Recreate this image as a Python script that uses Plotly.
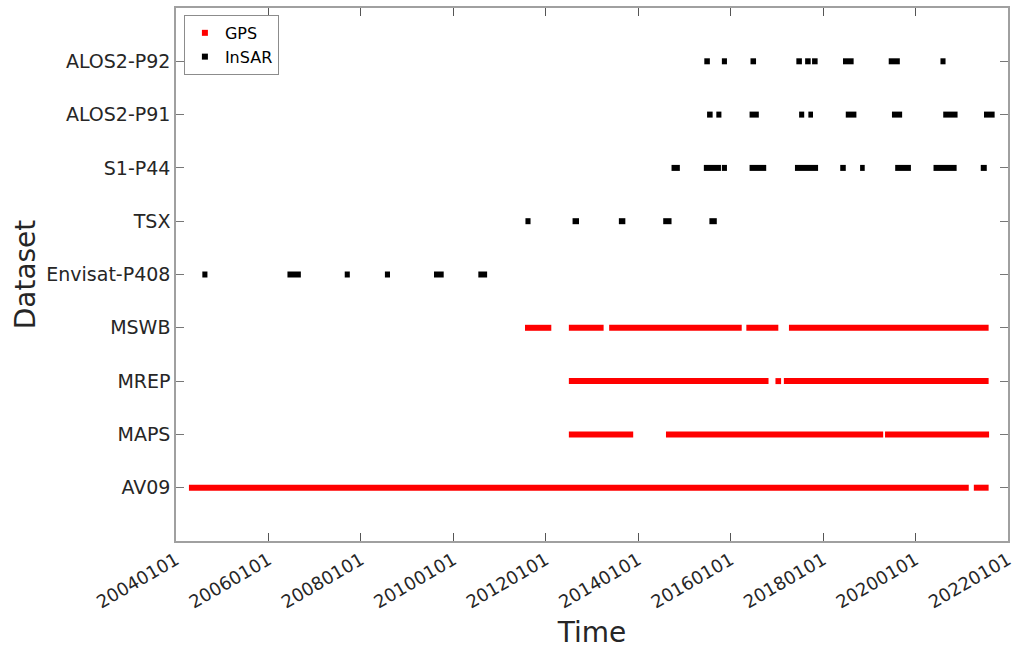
import datetime as dt
import plotly.graph_objects as go

# ---- data (decimal-year intervals) ----
datasets = ["AV09", "MAPS", "MREP", "MSWB", "Envisat-P408", "TSX", "S1-P44", "ALOS2-P91", "ALOS2-P92"]

gps_av09 = [(2004.28, 2021.15), (2021.26, 2021.58)]
gps_maps = [(2012.50, 2013.89), (2014.60, 2019.30), (2019.34, 2021.59)]
gps_mrep = [(2012.50, 2016.82), (2016.97, 2017.09), (2017.15, 2021.58)]
gps_mswb = [(2011.55, 2012.12), (2012.50, 2013.25), (2013.37, 2016.24), (2016.34, 2017.03), (2017.26, 2021.58)]

insar_envisat = [(2004.57, 2004.68), (2006.41, 2006.70), (2007.65, 2007.76), (2008.52, 2008.63),
                 (2009.58, 2009.79), (2010.54, 2010.73)]
insar_tsx = [(2011.56, 2011.67), (2012.58, 2012.72), (2013.58, 2013.72), (2014.54, 2014.72), (2015.54, 2015.70)]
insar_s1 = [(2014.72, 2014.90), (2015.42, 2015.79), (2015.81, 2015.92), (2016.41, 2016.77), (2017.39, 2017.89),
            (2018.37, 2018.49), (2018.80, 2018.90), (2019.56, 2019.90), (2020.39, 2020.89), (2021.41, 2021.54)]
insar_p91 = [(2015.49, 2015.61), (2015.69, 2015.80), (2016.41, 2016.61), (2017.48, 2017.59), (2017.68, 2017.78),
             (2018.49, 2018.72), (2019.49, 2019.71), (2020.60, 2020.91), (2021.48, 2021.71)]
insar_p92 = [(2015.43, 2015.55), (2015.81, 2015.92), (2016.43, 2016.55), (2017.42, 2017.54), (2017.61, 2017.73),
             (2017.76, 2017.88), (2018.43, 2018.66), (2019.42, 2019.66), (2020.54, 2020.65)]

gps_rows = {"AV09": gps_av09, "MAPS": gps_maps, "MREP": gps_mrep, "MSWB": gps_mswb}
insar_rows = {"Envisat-P408": insar_envisat, "TSX": insar_tsx, "S1-P44": insar_s1,
              "ALOS2-P91": insar_p91, "ALOS2-P92": insar_p92}

tick_years = list(range(2004, 2023, 2))
tick_labels = [f"{y}0101" for y in tick_years]


def to_date(dy):
    y = int(dy)
    return dt.datetime(y, 1, 1) + dt.timedelta(days=(dy - y) * 365.25)


def build(rows):
    xs, ys = [], []
    for name, segs in rows.items():
        yv = datasets.index(name) + 1
        for a, b in segs:
            xs += [to_date(a), to_date(b), None]
            ys += [yv, yv, None]
    return xs, ys


fig = go.Figure()
gx, gy = build(gps_rows)
ix, iy = build(insar_rows)
fig.add_trace(go.Scatter(x=gx, y=gy, mode="lines", line=dict(color="#ff0000", width=6), showlegend=False))
fig.add_trace(go.Scatter(x=ix, y=iy, mode="lines", line=dict(color="#000000", width=6), showlegend=False))
fig.add_trace(go.Scatter(x=[None], y=[None], mode="markers", name="GPS",
                         marker=dict(symbol="square", size=6, color="#ff0000")))
fig.add_trace(go.Scatter(x=[None], y=[None], mode="markers", name="InSAR",
                         marker=dict(symbol="square", size=6, color="#000000")))

axis_col = "#a0a0a0"
text_col = "#262626"
font = "DejaVu Sans"

fig.update_layout(
    width=1017, height=649,
    margin=dict(l=176, r=9, t=8, b=108, autoexpand=False),
    paper_bgcolor="white", plot_bgcolor="white",
    font=dict(family=font, color=text_col),
    showlegend=True,
    legend=dict(x=0.0095, y=0.987, xanchor="left", yanchor="top",
                bgcolor="white", bordercolor="#8c8c8c", borderwidth=1,
                font=dict(size=16, color="#000"), tracegroupgap=0, itemwidth=30),
    xaxis=dict(
        range=[dt.datetime(2004, 1, 1), dt.datetime(2022, 1, 1)],
        tickvals=[dt.datetime(y, 1, 1) for y in tick_years], ticktext=tick_labels,
        tickangle=-30, tickfont=dict(size=18, color=text_col), automargin=False,
        ticks="inside", ticklen=8, tickcolor="#555", mirror="ticks",
        showline=True, linecolor=axis_col, linewidth=1.5, showgrid=False, zeroline=False,
        title=dict(text="Time", font=dict(size=28, color=text_col), standoff=14),
    ),
    yaxis=dict(
        range=[0, 10], tickvals=list(range(1, len(datasets) + 1)), ticktext=datasets,
        tickfont=dict(size=19, color=text_col), automargin=False,
        ticks="inside", ticklen=8, tickcolor="#777", mirror="ticks",
        showline=True, linecolor=axis_col, linewidth=1.5, showgrid=False, zeroline=False,
        title=dict(text="Dataset", font=dict(size=28, color=text_col), standoff=3),
    ),
)

fig.write_html("out.html")
